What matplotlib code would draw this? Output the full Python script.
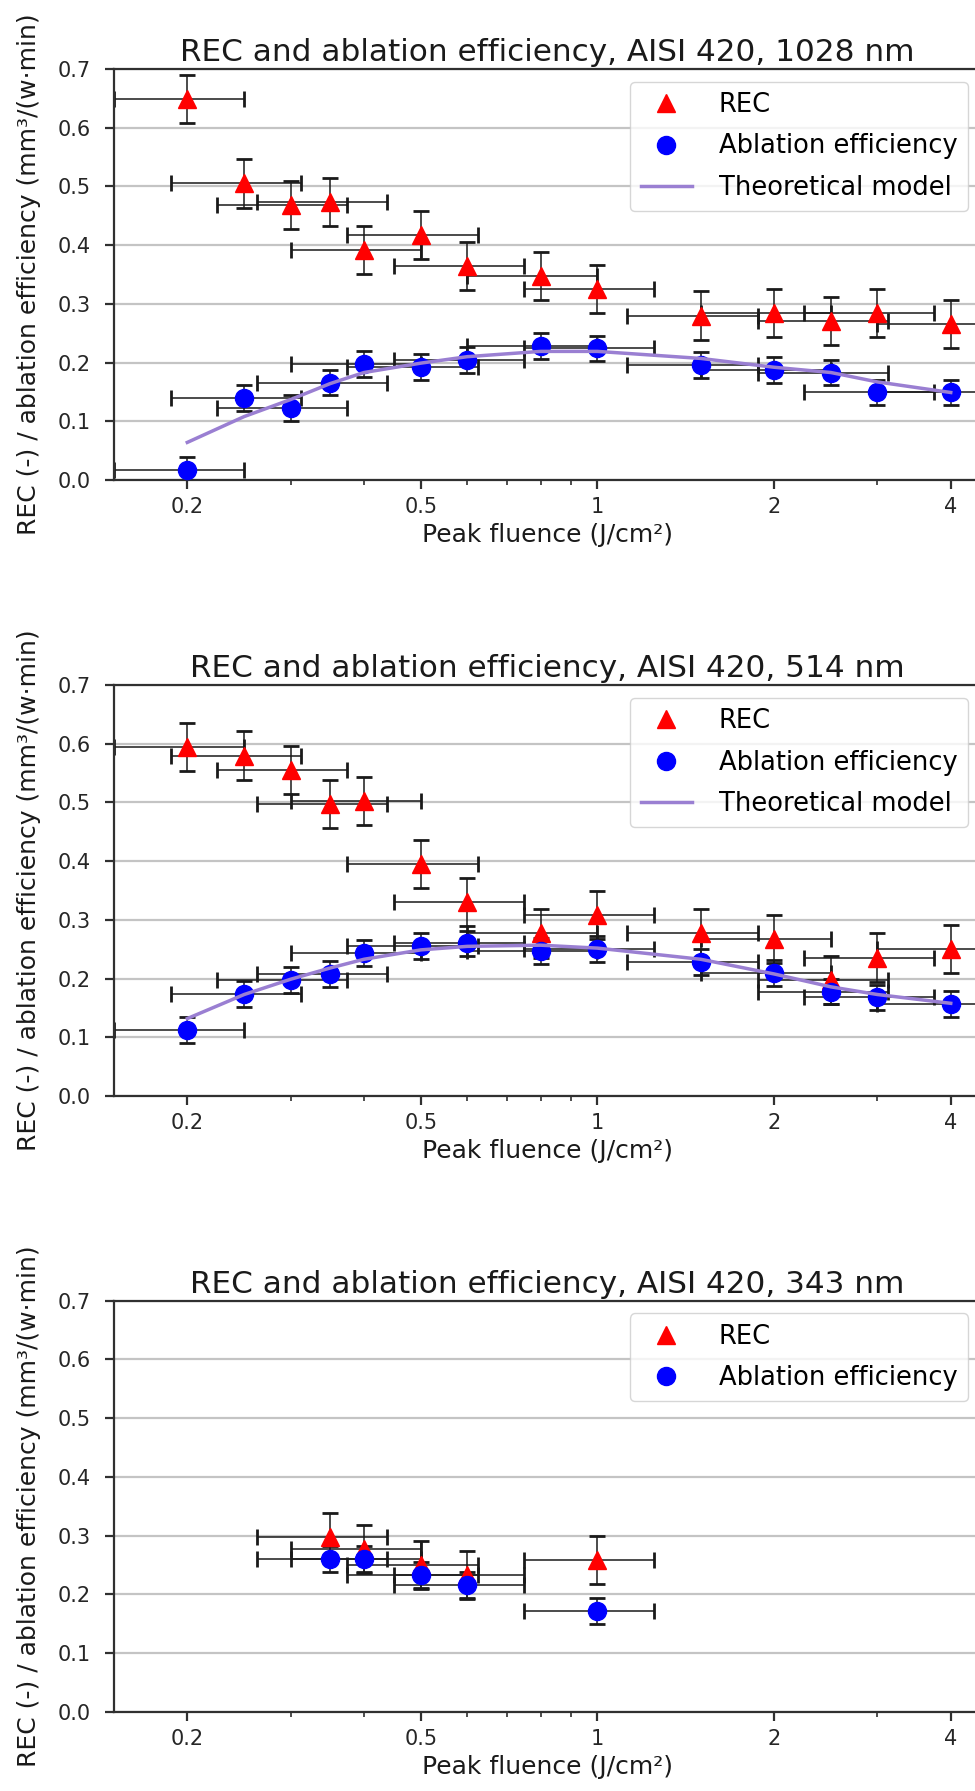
import matplotlib.pyplot as plt
from matplotlib.ticker import NullFormatter

# peak fluence steps (J/cm^2) and their horizontal uncertainty
fluence = [0.2, 0.25, 0.3, 0.35, 0.4, 0.5, 0.6, 0.8, 1.0, 1.5, 2.0, 2.5, 3.0, 4.0]
fluence_err = [0.05, 0.0625, 0.075, 0.0875, 0.1, 0.125, 0.15, 0.2, 0.25,
               0.375, 0.5, 0.625, 0.75, 1.0]

# 1028 nm
rec_1028 = [0.649, 0.505, 0.468, 0.474, 0.392, 0.417, 0.365, 0.347, 0.325,
            0.280, 0.285, 0.271, 0.285, 0.266]
eff_1028 = [0.017, 0.140, 0.122, 0.166, 0.198, 0.192, 0.205, 0.228, 0.224,
            0.196, 0.187, 0.183, 0.149, 0.149]
model_1028 = [0.064, 0.108, 0.137, 0.164, 0.183, 0.199, 0.210, 0.219, 0.219,
              0.207, 0.192, 0.183, 0.167, 0.149]

# 514 nm
rec_514 = [0.595, 0.580, 0.555, 0.497, 0.503, 0.395, 0.330, 0.277, 0.308,
           0.277, 0.268, 0.197, 0.236, 0.250]
eff_514 = [0.113, 0.174, 0.197, 0.208, 0.243, 0.255, 0.260, 0.247, 0.250,
           0.228, 0.210, 0.178, 0.168, 0.157]
model_514 = [0.132, 0.173, 0.199, 0.218, 0.233, 0.249, 0.255, 0.257, 0.252,
             0.233, 0.208, 0.186, 0.173, 0.158]

# 343 nm, fewer fluence steps
fluence_343 = [0.35, 0.4, 0.5, 0.6, 1.0]
fluence_err_343 = [0.0875, 0.1, 0.125, 0.15, 0.25]
rec_343 = [0.298, 0.277, 0.250, 0.233, 0.259]
eff_343 = [0.260, 0.260, 0.233, 0.215, 0.171]

REC_ERR = 0.041
EFF_ERR = 0.022

xticks = [0.2, 0.5, 1, 2, 4]
xtick_labels = ["0.2", "0.5", "1", "2", "4"]


def draw_panel(ax, title, x, xerr, rec, eff, model=None):
    bar_kw = dict(fmt="none", ecolor="#1a1a1a", elinewidth=1.1, capsize=6,
                  capthick=2, zorder=2)
    ax.errorbar(x, rec, xerr=xerr, yerr=REC_ERR, **bar_kw)
    ax.errorbar(x, eff, xerr=xerr, yerr=EFF_ERR, **bar_kw)
    ax.plot(x, rec, "^", color="red", markersize=13, linestyle="none",
            label="REC", zorder=3)
    ax.plot(x, eff, "o", color="blue", markersize=13, linestyle="none",
            label="Ablation efficiency", zorder=3)
    if model is not None:
        ax.plot(x, model, color="#9a7fd2", linewidth=2.5,
                label="Theoretical model", zorder=4)

    ax.set_xscale("log")
    ax.set_xlim(0.15, 4.5)
    ax.set_ylim(0, 0.7)
    ax.set_xticks(xticks)
    ax.set_xticklabels(xtick_labels)
    ax.xaxis.set_minor_formatter(NullFormatter())

    ax.set_axisbelow(True)
    ax.grid(axis="y", color="#c4c4c4", linewidth=1.6)
    for side in ax.spines.values():
        side.set_linewidth(1.6)
        side.set_color("#303030")
    ax.tick_params(axis="both", which="major", labelsize=15, width=1.6,
                   length=6.5, color="#303030", labelcolor="#262626")
    ax.tick_params(axis="both", which="minor", width=1.2, length=3.5,
                   color="#303030")
    ax.tick_params(axis="y", pad=10)
    ax.tick_params(axis="x", pad=6)

    ax.set_title(title, fontsize=22.4, pad=5.5, color="#1a1a1a")
    ax.set_xlabel("Peak fluence (J/cm²)", fontsize=18, labelpad=4,
                  color="#1a1a1a")
    ax.set_ylabel("REC (-) / ablation efficiency (mm³/(w·min)", fontsize=18,
                  labelpad=12, color="#1a1a1a")
    ax.legend(loc="upper right", fontsize=18.5, handlelength=2.0,
              handletextpad=1.05, labelspacing=0.6)


fig = plt.figure(figsize=(9.75, 17.91), dpi=100)

left, width, height = 0.1169, 0.889, 0.2295
ax1 = fig.add_axes([left, 0.732, width, height])
ax2 = fig.add_axes([left, 0.388, width, height])
ax3 = fig.add_axes([left, 0.0443, width, height])

draw_panel(ax1, "REC and ablation efficiency, AISI 420, 1028 nm",
           fluence, fluence_err, rec_1028, eff_1028, model_1028)
draw_panel(ax2, "REC and ablation efficiency, AISI 420, 514 nm",
           fluence, fluence_err, rec_514, eff_514, model_514)
draw_panel(ax3, "REC and ablation efficiency, AISI 420, 343 nm",
           fluence_343, fluence_err_343, rec_343, eff_343)

fig.savefig("out.png", dpi=100)
